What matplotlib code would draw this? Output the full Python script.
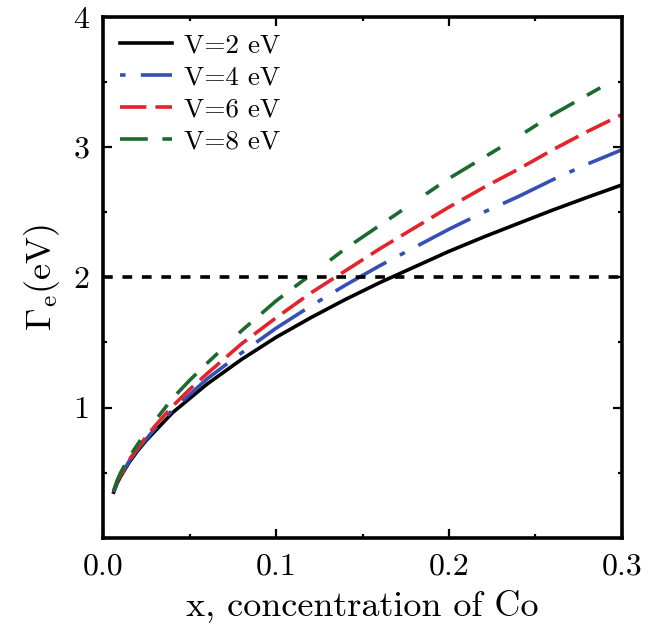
import numpy as np
import matplotlib
matplotlib.use('Agg')
import matplotlib.pyplot as plt

plt.rcParams['font.family'] = ['cmr10', 'DejaVu Serif']
plt.rcParams['mathtext.fontset'] = 'cm'
plt.rcParams['axes.formatter.use_mathtext'] = True
plt.rcParams['lines.scale_dashes'] = False

# values
x = [0.006, 0.008, 0.01, 0.015, 0.02, 0.025, 0.03, 0.04, 0.05, 0.06, 0.08,
     0.10, 0.12, 0.14, 0.16, 0.18, 0.20, 0.22, 0.24, 0.26, 0.28, 0.30]
gamma_v2 = [0.35, 0.42, 0.47, 0.58, 0.67, 0.75, 0.82, 0.96, 1.07, 1.18, 1.37,
            1.54, 1.69, 1.83, 1.96, 2.08, 2.20, 2.31, 2.414, 2.517, 2.615, 2.71]
gamma_v4 = [0.35, 0.42, 0.47, 0.59, 0.68, 0.76, 0.84, 0.98, 1.10, 1.22, 1.42,
            1.61, 1.78, 1.94, 2.09, 2.23, 2.37, 2.50, 2.62, 2.75, 2.87, 2.98]
gamma_v6 = [0.36, 0.43, 0.48, 0.60, 0.69, 0.78, 0.86, 1.01, 1.14, 1.26, 1.49,
            1.69, 1.88, 2.05, 2.22, 2.38, 2.54, 2.69, 2.83, 2.98, 3.12, 3.25]
gamma_v8 = [0.36, 0.44, 0.50, 0.62, 0.72, 0.82, 0.90, 1.07, 1.21, 1.34, 1.59,
            1.82, 2.02, 2.22, 2.40, 2.58, 2.76, 2.92, 3.08, 3.25, 3.40, 3.55]
labels = ['V=2 eV', 'V=4 eV', 'V=6 eV', 'V=8 eV']
threshold = 2.0

fig = plt.figure(figsize=(6.56, 6.27), dpi=100)
ax = fig.add_axes([0.1575, 0.1424, 0.7905, 0.8305])

lw = 2.6
ax.plot(x, gamma_v2, color='black', lw=lw, label=labels[0])
ax.plot(x, gamma_v4, color='#3550b4', lw=lw, ls=(53, (42, 11, 4, 11)), label=labels[1])
ax.plot(x, gamma_v6, color='#e4232b', lw=lw, dashes=(19, 6.5), label=labels[2])
ax.plot(x, gamma_v8, color='#1b6b2e', lw=lw, dashes=(20, 10.5, 11, 21, 11, 10.5), label=labels[3])
ax.axhline(threshold, color='black', lw=2.6, dashes=(7, 7))

ax.set_xlim(0, 0.3)
ax.set_ylim(0, 4)
ax.set_xticks([0.0, 0.1, 0.2, 0.3])
ax.set_xticklabels(['0.0', '0.1', '0.2', '0.3'])
ax.set_xticks([0.05, 0.15, 0.25], minor=True)
ax.set_yticks([1, 2, 3, 4])
ax.set_yticklabels(['1', '2', '3', '4'])
ax.set_yticks([0.5, 1.5, 2.5, 3.5], minor=True)
ax.tick_params(which='both', direction='in', top=True, right=True, labelsize=23)
ax.tick_params(which='major', length=6.5, width=1.6)
ax.tick_params(which='minor', length=3.2, width=1.6)
ax.tick_params(axis='x', which='major', pad=11)
ax.tick_params(axis='y', which='major', pad=10)
for s in ax.spines.values():
    s.set_linewidth(2.6)

ax.set_xlabel('x, concentration of Co', fontsize=26, labelpad=6)
ax.set_ylabel(r'$\Gamma_{\rm e}$(eV)', fontsize=26, labelpad=8)

ax.legend(loc='upper left', frameon=False, fontsize=19.5, handlelength=1.95,
          handletextpad=0.42, labelspacing=0.3, borderaxespad=0.25, borderpad=0.35)

fig.savefig('out.png', dpi=100)
